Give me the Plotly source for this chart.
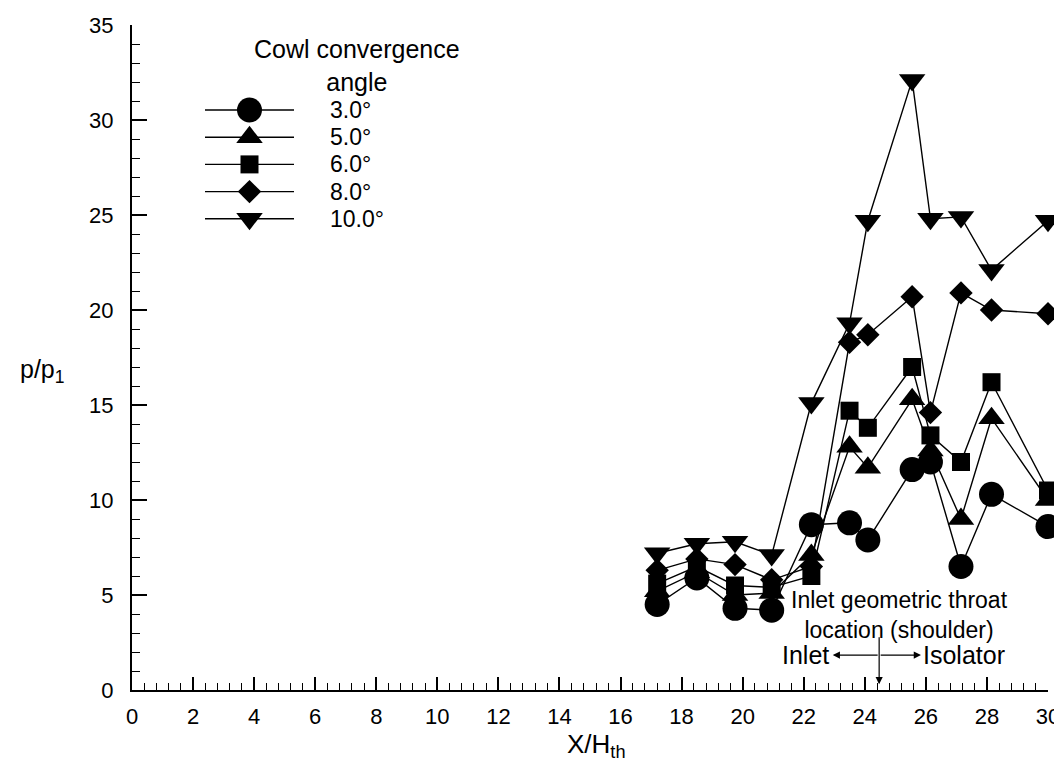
import plotly.graph_objects as go

# ---------------- data ----------------
x_pos = [17.2, 18.5, 19.75, 20.95, 22.25, 23.5, 24.1, 25.55, 26.15, 27.15, 28.15, 30.0]

angle_labels = ["3.0°", "5.0°", "6.0°", "8.0°", "10.0°"]
p_3deg = [4.5, 5.9, 4.3, 4.2, 8.7, 8.8, 7.9, 11.6, 12.0, 6.5, 10.3, 8.6]
p_5deg = [5.2, 6.2, 5.0, 5.1, 7.1, 12.8, 11.7, 15.3, 12.6, 9.0, 14.3, 10.0]
p_6deg = [5.6, 6.5, 5.5, 5.4, 6.0, 14.7, 13.8, 17.0, 13.4, 12.0, 16.2, 10.5]
p_8deg = [6.3, 6.9, 6.6, 5.8, 6.5, 18.3, 18.7, 20.7, 14.6, 20.9, 20.0, 19.8]
p_10deg = [7.2, 7.7, 7.8, 7.1, 15.1, 19.3, 24.7, 32.1, 24.8, 24.9, 22.1, 24.7]

series_values = [p_3deg, p_5deg, p_6deg, p_8deg, p_10deg]
symbols = ["circle", "triangle-up", "square", "diamond", "triangle-down"]
sizes = [25, 23, 18, 18, 23]

x_ticks = list(range(0, 31, 2))
y_ticks = list(range(0, 36, 5))
throat_x = 24.47

FONT = "Liberation Sans, Arial, Helvetica, sans-serif"

# ---------------- layout geometry (pixels) ----------------
W, H = 1062, 762
L, R, T, B = 124, 22, 17, 80
pw, ph = W - L - R, H - T - B


def px2paper_x(px):
    return (px - L) / pw


def px2paper_y(py):
    return (H - B - py) / ph


fig = go.Figure()

for vals, sym, sz, lab in zip(series_values, symbols, sizes, angle_labels):
    fig.add_trace(go.Scatter(
        x=x_pos, y=vals, mode="lines+markers", name=lab,
        line=dict(color="black", width=1.4),
        marker=dict(symbol=sym, size=sz, color="black", line=dict(width=0)),
        cliponaxis=False, showlegend=False,
    ))

# ---------------- legend drawn in its own small axes ----------------
row_y0, row_dy = 102, 27.2
for i, (sym, sz, lab) in enumerate(zip(symbols, sizes, angle_labels)):
    fig.add_trace(go.Scatter(
        x=[0, 1], y=[-i, -i], mode="lines", xaxis="x2", yaxis="y2",
        line=dict(color="black", width=1.4), showlegend=False, hoverinfo="skip"))
    fig.add_trace(go.Scatter(
        x=[0.5], y=[-i], mode="markers", xaxis="x2", yaxis="y2",
        marker=dict(symbol=sym, size=sz, color="black", line=dict(width=0)),
        showlegend=False, hoverinfo="skip", cliponaxis=False))
    fig.add_annotation(x=px2paper_x(320), y=px2paper_y(row_y0 + row_dy * i),
                       xref="paper", yref="paper", text=lab,
                       showarrow=False, xanchor="left", yanchor="middle",
                       font=dict(size=23, color="black", family=FONT))

n = len(angle_labels)
leg_top, leg_bot = row_y0 - row_dy / 2, row_y0 + row_dy * (n - 1) + row_dy / 2

fig.update_layout(
    width=W, height=H,
    margin=dict(l=L, r=R, t=T, b=B, autoexpand=False),
    paper_bgcolor="white", plot_bgcolor="white",
    font=dict(family=FONT, size=22, color="black"),
    showlegend=False,
    xaxis=dict(
        range=[0, 30], tickvals=x_ticks, showgrid=False, zeroline=False,
        showline=True, linecolor="black", linewidth=2,
        ticks="inside", ticklen=13, tickwidth=1.5, tickcolor="black",
        minor=dict(dtick=0.4, tick0=0, ticks="inside", ticklen=7, tickwidth=1.2, tickcolor="black"),
        tickfont=dict(size=22, family=FONT, color="black"),
        ticklabelstandoff=6,
    ),
    yaxis=dict(
        range=[0, 35], tickvals=y_ticks, showgrid=False, zeroline=False,
        showline=True, linecolor="black", linewidth=2,
        ticks="inside", ticklen=15, tickwidth=1.5, tickcolor="black",
        minor=dict(dtick=1, tick0=0, ticks="inside", ticklen=8, tickwidth=1.2, tickcolor="black"),
        tickfont=dict(size=22, family=FONT, color="black"),
        ticklabelstandoff=12,
    ),
    xaxis2=dict(domain=[px2paper_x(197), px2paper_x(286)], range=[0, 1],
                visible=False, anchor="y2", fixedrange=True),
    yaxis2=dict(domain=[px2paper_y(leg_bot), px2paper_y(leg_top)],
                range=[-(n - 1) - 0.5, 0.5], visible=False, anchor="x2", fixedrange=True),
)

# legend title
fig.add_annotation(x=px2paper_x(349), y=px2paper_y(58), xref="paper", yref="paper",
                   text="Cowl convergence<br>angle", showarrow=False,
                   xanchor="center", yanchor="middle", align="center",
                   font=dict(size=25, family=FONT, color="black"))

# axis titles
fig.add_annotation(x=px2paper_x(34), y=px2paper_y(363), xref="paper", yref="paper",
                   text="p/p<sub>1</sub>", showarrow=False, xanchor="center", yanchor="middle",
                   font=dict(size=25, family=FONT, color="black"))
fig.add_annotation(x=px2paper_x(588), y=px2paper_y(737), xref="paper", yref="paper",
                   text="X/H<sub>th</sub>", showarrow=False, xanchor="center", yanchor="middle",
                   font=dict(size=26, family=FONT, color="black"))

# throat annotation
fig.add_annotation(x=25.15, y=3.95, xref="x", yref="y",
                   text="Inlet geometric throat<br>location (shoulder)", showarrow=False,
                   xanchor="center", yanchor="middle", align="center",
                   font=dict(size=23, family=FONT, color="black"))
fig.add_annotation(x=22.9, y=1.84, xref="x", yref="y", text="Inlet", showarrow=False,
                   xanchor="right", yanchor="middle",
                   font=dict(size=25, family=FONT, color="black"))
fig.add_annotation(x=25.85, y=1.84, xref="x", yref="y", text="Isolator", showarrow=False,
                   xanchor="left", yanchor="middle",
                   font=dict(size=25, family=FONT, color="black"))
# arrows
for tip_x in (22.95, 25.84):
    fig.add_annotation(x=tip_x, y=1.84, ax=throat_x, ay=1.84, xref="x", yref="y",
                       axref="x", ayref="y", text="", showarrow=True,
                       arrowhead=2, arrowsize=1.2, arrowwidth=1.2, arrowcolor="black")
fig.add_annotation(x=throat_x, y=0.3, ax=throat_x, ay=2.85, xref="x", yref="y",
                   axref="x", ayref="y", text="", showarrow=True,
                   arrowhead=2, arrowsize=1.2, arrowwidth=1.2, arrowcolor="black")

fig.write_html("out.html")
